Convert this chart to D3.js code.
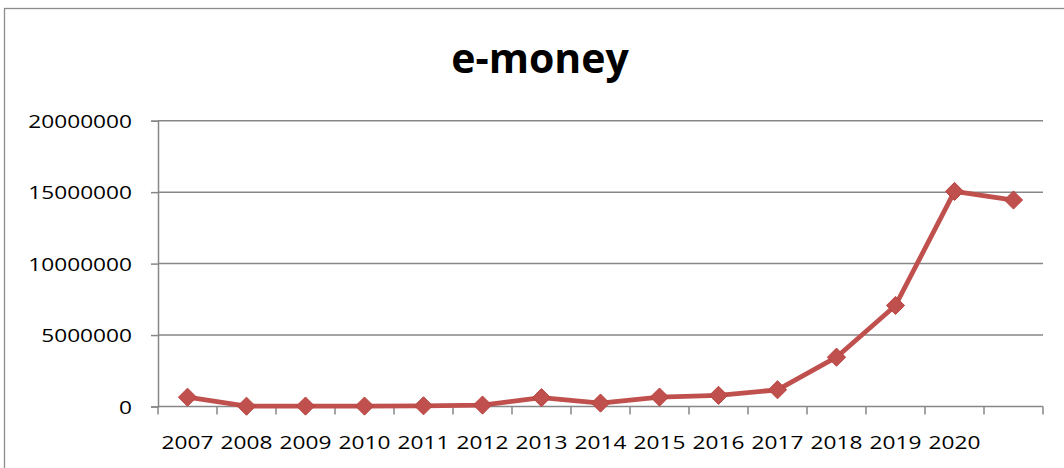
<!DOCTYPE html>
<html>
<head>
<meta charset="utf-8">
<script src="https://cdn.jsdelivr.net/npm/d3@7"></script>
<style>
html,body{margin:0;padding:0;background:#fff;}
svg{display:block;}
</style>
</head>
<body>
<svg id="chart" width="1064" height="468"></svg>
<script>
const categories = ["2007","2008","2009","2010","2011","2012","2013","2014","2015","2016","2017","2018","2019","2020",""];
const values = [650000,20000,30000,30000,50000,100000,620000,240000,660000,780000,1170000,3450000,7070000,15050000,14450000];
const yTicks = [0,5000000,10000000,15000000,20000000];
const title = "e-money";

const svg = d3.select("#chart");
const W = 1064, H = 468;
const plot = {left:158, right:1043, top:120.7, bottom:406.5};
const labelFont = "'Open Sans', sans-serif";
const labelSize = 18.6;
const stretch = 1.22;

// outer chart border (extends past right/bottom edges)
svg.append("rect").attr("x",4.5).attr("y",8.5).attr("width",W+10).attr("height",H+10)
  .attr("fill","#fff").attr("stroke","#8c8c8c").attr("stroke-width",1.3);

svg.append("text").attr("x",540).attr("y",73).attr("text-anchor","middle")
  .attr("font-family","'Open Sans', sans-serif").attr("font-weight","bold").attr("font-size",41)
  .attr("fill","#000").text(title);

const x = d3.scaleBand().domain(categories).range([plot.left, plot.right]).paddingInner(0).paddingOuter(0);
const y = d3.scaleLinear().domain([0,20000000]).range([plot.bottom, plot.top]);

const gridColor = "#878787";

// gridlines
svg.append("g").selectAll("line").data(yTicks.filter(d=>d>0)).join("line")
  .attr("x1",plot.left).attr("x2",plot.right)
  .attr("y1",d=>y(d)).attr("y2",d=>y(d))
  .attr("stroke",gridColor).attr("stroke-width",1.5);

// y axis
const yAxis = d3.axisLeft(y).tickValues(yTicks).tickSize(7).tickPadding(0).tickFormat(d3.format("d"));
const gy = svg.append("g").attr("transform",`translate(${plot.left},0)`).call(yAxis);
gy.select(".domain").attr("stroke",gridColor).attr("stroke-width",1.5);
gy.selectAll(".tick line").attr("stroke",gridColor).attr("stroke-width",1.5);
gy.selectAll(".tick text").attr("font-family",labelFont).attr("font-size",labelSize)
  .attr("fill","#000").attr("x",0).attr("dy","0.35em")
  .attr("transform",`translate(-26,0) scale(${stretch},1)`);

// x axis
const bounds = categories.map(c=>x(c)).concat([plot.right]);
const gx = svg.append("g");
gx.append("line").attr("x1",plot.left).attr("x2",plot.right).attr("y1",plot.bottom).attr("y2",plot.bottom)
  .attr("stroke",gridColor).attr("stroke-width",1.5);
gx.selectAll("line.tk").data(bounds).join("line").attr("class","tk")
  .attr("x1",d=>d).attr("x2",d=>d).attr("y1",plot.bottom).attr("y2",plot.bottom+8)
  .attr("stroke",gridColor).attr("stroke-width",1.5);
gx.selectAll("text").data(categories).join("text")
  .attr("transform",d=>`translate(${x(d)+x.bandwidth()/2},448.5) scale(${stretch},1)`)
  .attr("text-anchor","middle")
  .attr("font-family",labelFont).attr("font-size",labelSize)
  .attr("fill","#000").text(d=>d);

// line
const pts = categories.map((c,i)=>({c, v:values[i]}));
const line = d3.line().x(d=>x(d.c)+x.bandwidth()/2).y(d=>y(d.v));
svg.append("path").datum(pts).attr("d",line).attr("fill","none")
  .attr("stroke","#C0504D").attr("stroke-width",4.8).attr("stroke-linejoin","round");

// diamond markers
const sym = d3.symbol().type(d3.symbolDiamond2).size(210);
svg.append("g").selectAll("path").data(pts).join("path")
  .attr("transform",d=>`translate(${x(d.c)+x.bandwidth()/2},${y(d.v)})`)
  .attr("d",sym).attr("fill","#C0504D").attr("stroke","#B9443F").attr("stroke-width",1);
</script>
</body>
</html>
